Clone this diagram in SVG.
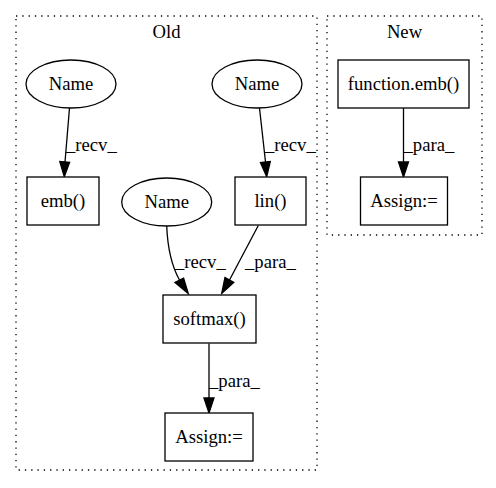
<svg xmlns="http://www.w3.org/2000/svg" width="496" height="488" viewBox="0 0 496 488">
<style>
  text { font-family: "Liberation Serif", "Times New Roman", serif; font-size: 18.67px; fill: #000; }
  .node text { text-anchor: middle; }
  .cluster rect { fill: none; stroke: #000; stroke-width: 1.3; stroke-dasharray: 1.3 5; }
  .cluster text { text-anchor: middle; }
  .node rect, .node ellipse { fill: #fff; stroke: #000; stroke-width: 1.3; }
  .edges path { fill: none; stroke: #000; stroke-width: 1.3; }
  .edges polygon { fill: #000; stroke: #000; stroke-width: 1.3; }
</style>
<rect width="496" height="488" fill="#fff"/>

<!-- clusters -->
<g id="cluster_old" class="cluster">
  <rect x="16" y="16" width="301" height="454"/>
  <text x="166.5" y="38">Old</text>
</g>
<g id="cluster_new" class="cluster">
  <rect x="327" y="16" width="155" height="219"/>
  <text x="404.5" y="38">New</text>
</g>

<!-- connectors -->
<g id="edges" class="edges">
  <path d="M69.5,108 L65,162"/>
  <polygon points="59.8,161.5 64.3,176.7 69.6,162.3"/>
  <text x="66" y="151">_recv_</text>

  <path d="M259.5,108 L265.5,162"/>
  <polygon points="260.4,162.5 266.7,176.7 270.3,161.6"/>
  <text x="265" y="151">_recv_</text>

  <path d="M166.7,226 C167.5,245 170.5,264 179.5,280"/>
  <polygon points="175,282.5 188.3,293.5 183.6,278.2"/>
  <text x="175" y="268">_recv_</text>

  <path d="M258.3,225.5 L229.5,280"/>
  <polygon points="225,277.5 221.7,293.5 233.8,282.3"/>
  <text x="245" y="268">_para_</text>

  <path d="M209,343.5 L209,398"/>
  <polygon points="204,398 209,413 214,398"/>
  <text x="209" y="387">_para_</text>

  <path d="M403.5,108 L403.5,162"/>
  <polygon points="398.5,162 403.5,177 408.5,162"/>
  <text x="403.5" y="151">_para_</text>
</g>

<!-- nodes: Old -->
<g id="name_emb" class="node">
  <ellipse cx="71" cy="84" rx="45" ry="24"/>
  <text x="71" y="90">Name</text>
</g>
<g id="name_lin" class="node">
  <ellipse cx="257" cy="84" rx="45" ry="24"/>
  <text x="257" y="90">Name</text>
</g>
<g id="emb" class="node">
  <rect x="27" y="177" width="72" height="48"/>
  <text x="63" y="207">emb()</text>
</g>
<g id="name_softmax" class="node">
  <ellipse cx="166.7" cy="202" rx="45" ry="24"/>
  <text x="166.7" y="208">Name</text>
</g>
<g id="lin" class="node">
  <rect x="235" y="177" width="71" height="48"/>
  <text x="270.5" y="207">lin()</text>
</g>
<g id="softmax" class="node">
  <rect x="163" y="295" width="93" height="48"/>
  <text x="209.5" y="325">softmax()</text>
</g>
<g id="assign_old" class="node">
  <rect x="165" y="413" width="88" height="48"/>
  <text x="209" y="443">Assign:=</text>
</g>

<!-- nodes: New -->
<g id="function_emb" class="node">
  <rect x="338" y="60" width="131" height="48"/>
  <text x="403.5" y="90">function.emb()</text>
</g>
<g id="assign_new" class="node">
  <rect x="360.5" y="177" width="87" height="48"/>
  <text x="404" y="207">Assign:=</text>
</g>
</svg>
